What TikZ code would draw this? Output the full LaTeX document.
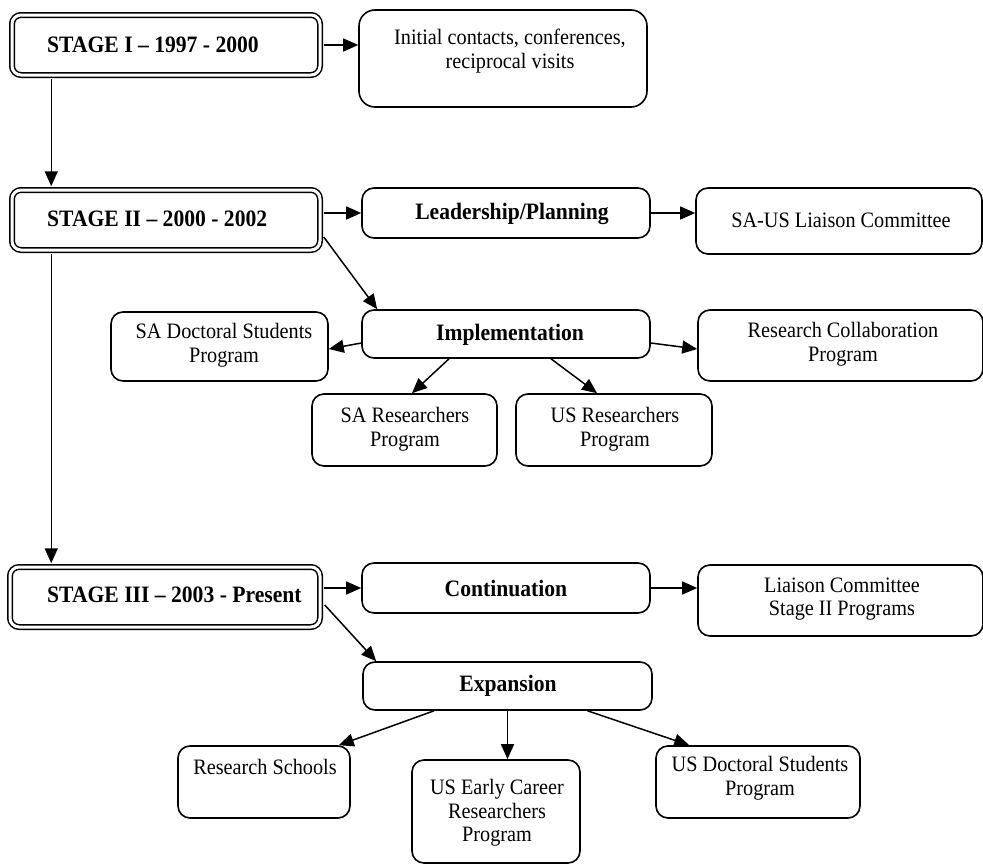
\documentclass[tikz,border=0pt]{standalone}
\usepackage{fontspec}
\setmainfont[FakeStretch=0.92]{Liberation Serif}
\usetikzlibrary{arrows.meta,calc}
\begin{document}
\begin{tikzpicture}[x=1pt,y=-1pt,
  box/.style={draw=black, line width=1.6pt, rounded corners=12pt, inner sep=0pt},
  stagebox/.style={draw=black, line width=1.5pt, double=white, double distance=3pt, rounded corners=9pt, inner sep=0pt},
  txt/.style={font=\fontsize{22}{23.5}\selectfont, align=center, inner sep=0pt},
  btxt/.style={font=\fontsize{23.5}{24}\selectfont\bfseries, align=center, inner sep=0pt},
  arr/.style={line width=1.5pt, -{Triangle[length=15pt,width=13pt]}}
]
\useasboundingbox (0,0) rectangle (983,865);
% stage boxes
\node[stagebox, minimum width=308pt, minimum height=60pt] (s1) at (166,45) {};
\node[btxt, anchor=west] (s1t) at (47,45) {STAGE I -- 1997 - 2000};
\node[stagebox, minimum width=308pt, minimum height=60pt] (s2) at (166,220) {};
\node[btxt, anchor=west] (s2t) at (47,219) {STAGE II -- 2000 - 2002};
\node[stagebox, minimum width=310pt, minimum height=60pt] (s3) at (165,597) {};
\node[btxt, anchor=west] (s3t) at (47,595) {STAGE III -- 2003 - Present};
% stage I
\node[box, rounded corners=16pt, minimum width=288pt, minimum height=97pt] (ic) at (503,58.5) {};
\node[txt] (ict) at (510,51) {Initial contacts, conferences,\\reciprocal visits};
% stage II
\node[box, minimum width=288pt, minimum height=50pt] (lp) at (506,213) {};
\node[btxt] (lpt) at (512,214) {Leadership/Planning};
\node[box, minimum width=286pt, minimum height=66pt] (sl) at (839,221) {};
\node[txt] (slt) at (841,220) {SA-US Liaison Committee};
\node[box, minimum width=288pt, minimum height=48pt] (imp) at (506,334) {};
\node[btxt] (impt) at (510,335) {Implementation};
\node[box, minimum width=217pt, minimum height=69pt] (sad) at (219.5,346.5) {};
\node[txt] (sadt) at (224,345) {SA Doctoral Students\\Program};
\node[box, minimum width=285pt, minimum height=71pt] (rc) at (840.5,345.5) {};
\node[txt] (rct) at (843,344) {Research Collaboration\\Program};
\node[box, minimum width=185pt, minimum height=72pt] (sar) at (404.5,430) {};
\node[txt] (sart) at (405,429) {SA Researchers\\Program};
\node[box, minimum width=196pt, minimum height=72pt] (usr) at (614,430) {};
\node[txt] (usrt) at (615,429) {US Researchers\\Program};
% stage III
\node[box, minimum width=288pt, minimum height=50pt] (cont) at (506,588) {};
\node[btxt] (contt) at (506,588) {Continuation};
\node[box, minimum width=285pt, minimum height=71pt] (lc) at (840.5,600.5) {};
\node[txt] (lct) at (842,599) {Liaison Committee\\Stage II Programs};
\node[box, minimum width=289pt, minimum height=48pt] (exp) at (507.5,686) {};
\node[btxt] (expt) at (508,686) {Expansion};
\node[box, minimum width=172pt, minimum height=72pt] (rs) at (264,782) {};
\node[txt] (rst) at (265,767) {Research Schools};
\node[box, minimum width=168pt, minimum height=103pt] (uec) at (496,811.5) {};
\node[txt] (uect) at (497,813) {US Early Career\\Researchers\\Program};
\node[box, minimum width=204pt, minimum height=72pt] (usd) at (758,782) {};
\node[txt] (usdt) at (760,778) {US Doctoral Students\\Program};
% connectors
\draw[arr] ([xshift=3pt]s1.east) -- (s1.east -| ic.west);
\draw[arr] ([xshift=40pt,yshift=-3pt]s1.south west) -- ([xshift=40pt,yshift=3pt]s2.north west);
\draw[arr] ([xshift=3pt]s2.east |- lp.west) -- (lp.west);
\draw[arr] (lp.east) -- (lp.east -| sl.west);
\draw[arr] ([xshift=3pt,yshift=-17pt]s2.east) -- ([xshift=16pt]imp.north west);
\draw[arr] ([xshift=40pt,yshift=-3pt]s2.south west) -- ([xshift=42pt,yshift=3pt]s3.north west);
\draw[arr] ([yshift=-9pt]imp.west) -- ([yshift=-2.5pt]sad.east);
\draw[arr] ([yshift=-9pt]imp.east) -- ([yshift=-3.5pt]rc.west);
\draw[arr] ([xshift=-57pt]imp.south) -- ([xshift=7.5pt]sar.north);
\draw[arr] ([xshift=45pt]imp.south) -- ([xshift=-17pt]usr.north);
\draw[arr] ([xshift=3pt]s3.east |- cont.west) -- (cont.west);
\draw[arr] (cont.east) -- (cont.east -| lc.west);
\draw[arr] ([xshift=4pt,yshift=-8pt]s3.east) -- ([xshift=14pt]exp.north west);
\draw[arr] ([xshift=-73.5pt]exp.south) -- ([xshift=-12pt]rs.north east);
\draw[arr] (exp.south) -- (exp.south |- uec.north);
\draw[arr] ([xshift=80pt]exp.south) -- ([xshift=34pt]usd.north west);
\end{tikzpicture}
\end{document}
